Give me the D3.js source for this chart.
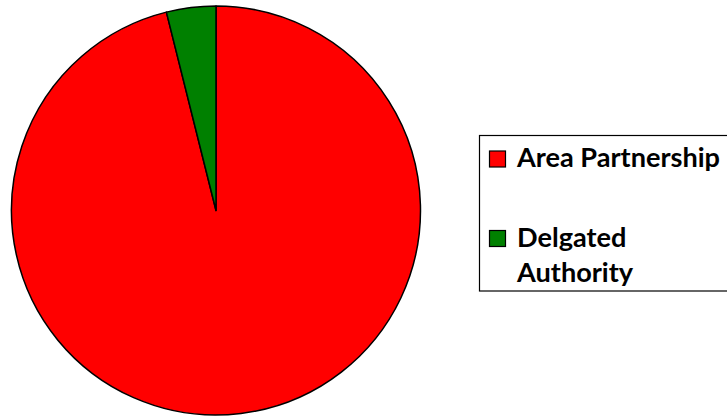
<!DOCTYPE html>
<html>
<head>
<meta charset="utf-8">
<script src="https://cdn.jsdelivr.net/npm/d3@7"></script>
<style>
html, body { margin: 0; padding: 0; background: #fff; }
svg { display: block; }
</style>
</head>
<body>
<svg id="chart" width="727" height="417"></svg>
<script>
const categories = ["Area Partnership", "Delgated Authority"];
const values = [96.1, 3.9];
const colors = ["#FF0000", "#008000"];
const legendLines = [["Area Partnership"], ["Delgated", "Authority"]];

const svg = d3.select("#chart");
const cx = 216, cy = 210.5, r = 204.5;

const pie = d3.pie().sort(null).value(d => d)(values);
const arc = d3.arc().innerRadius(0).outerRadius(r);

const g = svg.append("g").attr("transform", `translate(${cx},${cy})`);
g.selectAll("path").data(pie).join("path")
  .attr("d", arc)
  .attr("fill", (d, i) => colors[i])
  .attr("stroke", "#000")
  .attr("stroke-width", 1.5)
  .attr("stroke-linejoin", "round");

// Legend
svg.append("rect")
  .attr("x", 479.5).attr("y", 135.5)
  .attr("width", 260).attr("height", 155.5)
  .attr("fill", "#fff").attr("stroke", "#000").attr("stroke-width", 1.2);

const fontFamily = "Lato, 'Open Sans', sans-serif";
const items = [
  { sq: 151, base: [167.3] },
  { sq: 230.5, base: [246.7, 281.7] }
];
const lg = svg.append("g");
items.forEach((it, i) => {
  lg.append("rect")
    .attr("x", 489.5).attr("y", it.sq)
    .attr("width", 16).attr("height", 16)
    .attr("fill", colors[i]).attr("stroke", "#000").attr("stroke-width", 1.2);
  legendLines[i].forEach((line, j) => {
    lg.append("text")
      .attr("class", "lt")
      .attr("x", 517).attr("y", it.base[j])
      .attr("font-family", fontFamily)
      .attr("font-weight", "bold")
      .attr("font-size", 21)
      .attr("fill", "#000")
      .text(line);
  });
});
// fit font size so "Area Partnership" spans ~203px
const first = lg.select("text.lt").node();
const w = first.getComputedTextLength();
const fs = 21 * 203 / w;
lg.selectAll("text.lt").attr("font-size", fs.toFixed(2));
</script>
</body>
</html>
